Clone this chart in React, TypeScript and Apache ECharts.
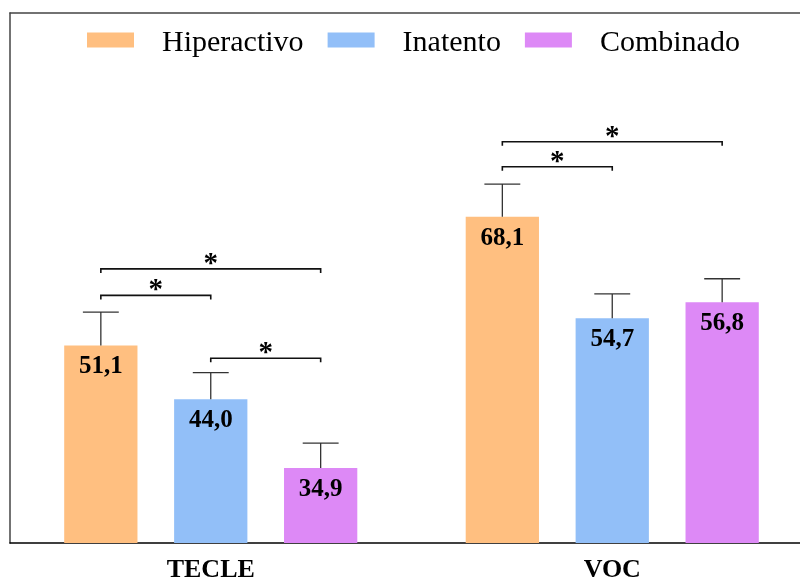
import React, { useEffect, useRef } from "react";
import * as echarts from "echarts";

const categories = ["TECLE", "VOC"];
const seriesNames = ["Hiperactivo", "Inatento", "Combinado"];
const colors = ["#FFBF80", "#92BFF8", "#DD89F6"];
const hiperactivo = [51.1, 68.1];
const inatento = [44.0, 54.7];
const combinado = [34.9, 56.8];
const upperHiperactivo = [55.5, 72.4];
const upperInatento = [47.5, 57.9];
const upperCombinado = [38.2, 59.9];

// significance brackets: category index, from series, to series, level (axis units)
const bracketCategory = [0, 0, 0, 1, 1];
const bracketFrom = [0, 0, 1, 0, 0];
const bracketTo = [1, 2, 2, 1, 2];
const bracketLevel = [57.7, 61.2, 49.4, 74.7, 78.0];
const bracketMark = ["*", "*", "*", "*", "*"];

const SERIF = "'Liberation Serif', 'Times New Roman', serif";
const CAT_GAP = 0.27;
const BAR_GAP = 0.5;

function barOffset(api: any, s: number) {
  const band = api.size([1, 0])[0];
  const w = (band * (1 - CAT_GAP)) / (3 + 2 * BAR_GAP);
  return { w, off: (s - 1) * w * (1 + BAR_GAP) };
}

export default function App() {
  const ref = useRef<HTMLDivElement>(null);
  useEffect(() => {
    if (!ref.current) return;
    const chart = echarts.init(ref.current, undefined, { renderer: "svg" });
    const values = [hiperactivo, inatento, combinado];
    const uppers = [upperHiperactivo, upperInatento, upperCombinado];

    const errData: any[] = [];
    values.forEach((vals, s) =>
      vals.forEach((v, c) => errData.push([c, s, v, uppers[s][c]]))
    );
    const brData = bracketCategory.map((c, i) => [
      c,
      bracketFrom[i],
      bracketTo[i],
      bracketLevel[i],
      bracketMark[i],
    ]);

    const barSeries = seriesNames.map((name, s) => ({
      name,
      type: "bar",
      data: values[s],
      barGap: BAR_GAP * 100 + "%",
      barCategoryGap: CAT_GAP * 100 + "%",
      itemStyle: { color: colors[s] },
      label: {
        show: true,
        position: "insideTop",
        distance: 7,
        color: "#000",
        fontFamily: SERIF,
        fontWeight: "bold",
        fontSize: 25,
        formatter: (p: any) => Number(p.value).toFixed(1).replace(".", ","),
      },
    }));

    chart.setOption({
      animation: false,
      grid: {
        left: 10,
        top: 13,
        width: 803,
        height: 530,
        outerBoundsMode: "none",
        containLabel: false,
      },
      legend: {
        data: seriesNames,
        icon: "rect",
        left: 82,
        top: 20,
        itemWidth: 47,
        itemHeight: 15,
        itemGap: 24,
        textStyle: {
          fontFamily: SERIF,
          fontSize: 30,
          color: "#000",
          padding: [0, 0, 0, 23],
        },
      },
      xAxis: [
        {
          type: "category",
          data: categories,
          axisLine: { lineStyle: { color: "#000", width: 1.5 } },
          axisTick: { alignWithLabel: true, length: 5, lineStyle: { color: "#444" } },
          axisLabel: {
            color: "#000",
            fontFamily: SERIF,
            fontWeight: "bold",
            fontSize: 26,
            margin: 12,
          },
        },
        {
          type: "category",
          data: categories,
          position: "top",
          axisLine: { show: true, lineStyle: { color: "#444", width: 1.5 } },
          axisTick: { show: false },
          axisLabel: { show: false },
          splitLine: { show: false },
        },
      ],
      yAxis: {
        type: "value",
        min: 25,
        max: 95,
        axisLine: { show: true, lineStyle: { color: "#444", width: 1.5 } },
        axisTick: { show: false },
        axisLabel: { show: false },
        splitLine: { show: false },
      },
      series: [
        ...barSeries,
        {
          type: "custom",
          name: "err",
          data: errData,
          encode: { x: 0, y: 3 },
          z: 3,
          renderItem: (params: any, api: any) => {
            const c = api.value(0);
            const s = api.value(1);
            const v = api.value(2);
            const hi = api.value(3);
            const { w, off } = barOffset(api, s);
            const base = api.coord([c, v]);
            const top = api.coord([c, hi])[1];
            const x = base[0] + off;
            const half = w * 0.245;
            const style = { stroke: "#333", lineWidth: 1.3 };
            return {
              type: "group",
              children: [
                { type: "line", shape: { x1: x, y1: base[1], x2: x, y2: top }, style },
                { type: "line", shape: { x1: x - half, y1: top, x2: x + half, y2: top }, style },
              ],
            };
          },
        },
        {
          type: "custom",
          name: "brackets",
          data: brData,
          encode: { x: 0, y: 3 },
          z: 4,
          renderItem: (params: any, api: any) => {
            const c = api.value(0);
            const a = api.value(1);
            const b = api.value(2);
            const lvl = api.value(3);
            const p = api.coord([c, lvl]);
            const x1 = p[0] + barOffset(api, a).off;
            const x2 = p[0] + barOffset(api, b).off;
            const y = p[1];
            return {
              type: "group",
              children: [
                {
                  type: "polyline",
                  shape: { points: [[x1, y + 4], [x1, y], [x2, y], [x2, y + 4]] },
                  style: { stroke: "#111", lineWidth: 1.6, fill: "none" },
                },
                {
                  type: "text",
                  x: (x1 + x2) / 2,
                  y: y - 7,
                  style: {
                    text: brData[params.dataIndex][4],
                    fontFamily: SERIF,
                    fontWeight: "bold",
                    fontSize: 29,
                    fill: "#000",
                    align: "center",
                    verticalAlign: "middle",
                  },
                },
              ],
            };
          },
        },
      ],
    });
    return () => chart.dispose();
  }, []);
  return (
    <div
      ref={ref}
      style={{ position: "fixed", left: 0, top: 0, width: 800, height: 581 }}
    />
  );
}
